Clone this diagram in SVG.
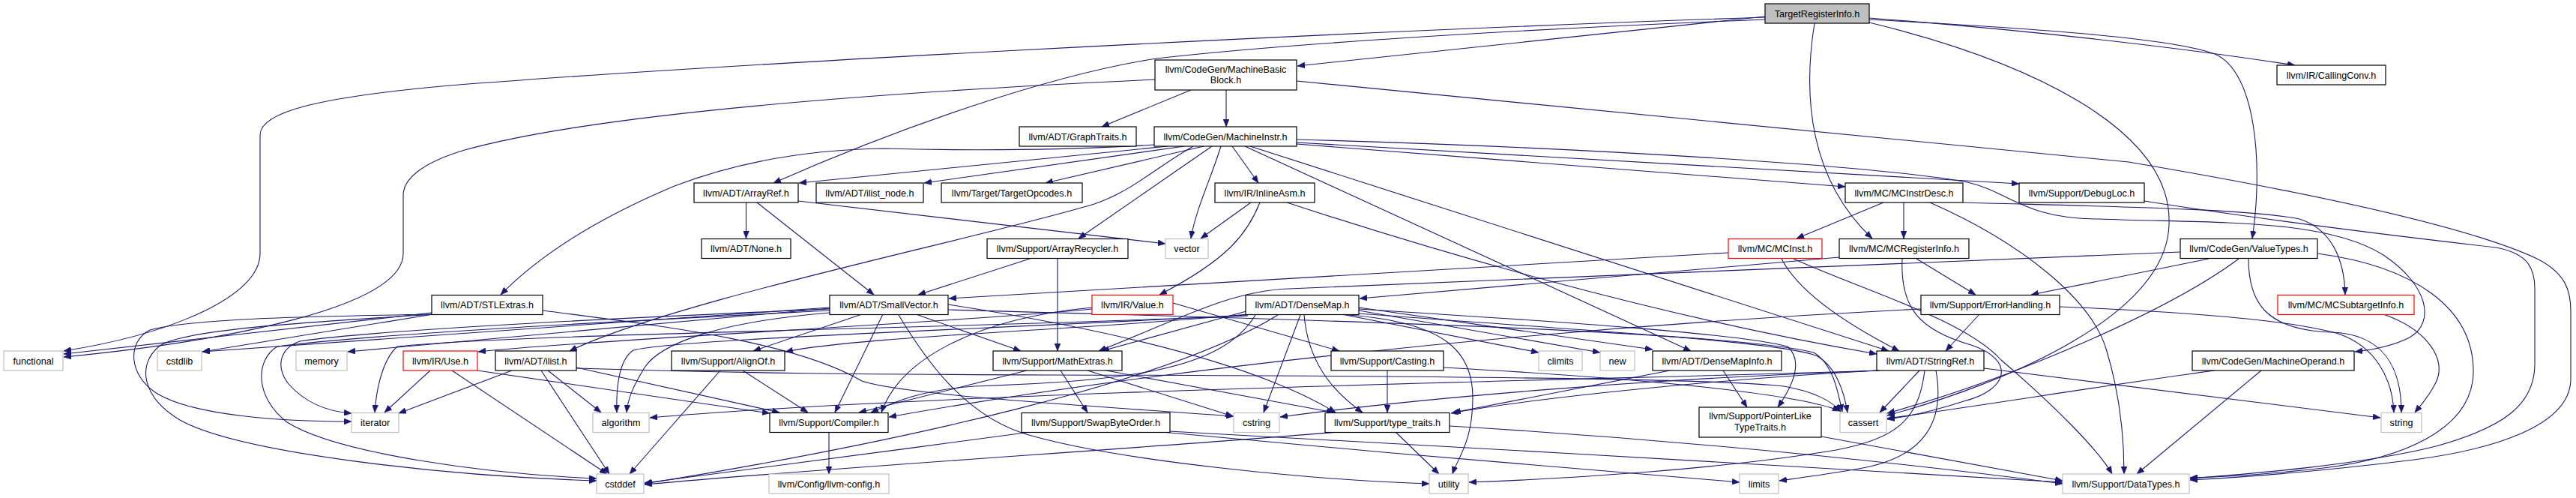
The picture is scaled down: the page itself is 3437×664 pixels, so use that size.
<svg xmlns="http://www.w3.org/2000/svg" width="3437" height="664" viewBox="0 0 3437 664">
<defs>
<marker id="ah" viewBox="0 0 10 8" refX="10" refY="4" markerWidth="10" markerHeight="8" markerUnits="userSpaceOnUse" orient="auto"><path d="M0,0L10,4L0,8z" fill="#191970" stroke="#191970" stroke-width="0.5"/></marker>
</defs>
<style>
.edges path{fill:none;stroke:#191970;stroke-width:1.1;marker-end:url(#ah)}
.n rect{fill:#fff;stroke:#000;stroke-width:1.2}
.x rect{fill:#fff;stroke:#bfbfbf;stroke-width:1.2}
.r rect{fill:#fff;stroke:#ff0000;stroke-width:1.2}
.root rect{fill:#bfbfbf;stroke:#000;stroke-width:1.2}
text{font-family:"Liberation Sans",Arial,Helvetica,sans-serif;font-size:12.6px;text-anchor:middle;fill:#000}
</style>
<rect width="3437" height="664" fill="#fff"/>
<g class="edges">
<path d="M2355,23 C1700,45 900,90 600,114 C420,130 347,150 347,180 L347,338 C347,395 230,445 85,468"/>
<path d="M2355,26 C2000,40 1700,60 1543,78 C1400,100 1200,170 1032,244"/>
<path d="M2355,22 L1731,88"/>
<path d="M2421,31 C2405,130 2415,240 2498,318"/>
<path d="M2494,30 C2700,80 2900,170 2894,300 C2890,420 2680,510 2518,554"/>
<path d="M2494,24 C2700,40 2900,62 3062,87"/>
<path d="M2494,26 C2750,40 2900,52 2955,72 C3010,95 3020,220 3005,318"/>
<path d="M1589,120 L1470,169"/>
<path d="M1636,120 L1636,169"/>
<path d="M1730,108 L2840,216 C3100,260 3300,305 3385,345 C3425,365 3430,390 3430,415 L3430,505 C3430,570 3320,600 3221,613 C3100,628 3000,636 2922,640"/>
<path d="M1541,106 C1200,122 800,150 620,200 C560,218 538,240 538,260 L538,338 C538,410 300,455 85,476"/>
<path d="M1558,195 L1066,244"/>
<path d="M1580,195 L1233,244"/>
<path d="M1606,195 L1395,244"/>
<path d="M1540,193 C1400,202 1250,200 1180,198 C1050,200 960,225 900,248 C800,290 720,340 668,393"/>
<path d="M1617,195 L1439,318"/>
<path d="M1629,195 C1615,240 1595,280 1589,318"/>
<path d="M1644,195 L1679,244"/>
<path d="M1661,195 L2256,468"/>
<path d="M1668,195 L2520,468"/>
<path d="M1730,186 C2100,196 2500,220 2625,243 C2680,255 2700,292 2800,292 C2950,298 3100,290 3180,340 C3240,380 3250,430 3215,450 C3195,460 3170,466 3142,469"/>
<path d="M1730,190 L2694,245"/>
<path d="M1730,192 L2462,249"/>
<path d="M1592,195 C1540,225 1510,255 1460,272 C1300,320 900,400 760,468"/>
<path d="M995.5,270 L995.5,318"/>
<path d="M1010,270 L1166,393"/>
<path d="M1065,268 L1555,325"/>
<path d="M1669,270 L1602,318"/>
<path d="M1681,270 C1665,310 1640,345 1547,393"/>
<path d="M1717,270 C1900,330 2200,420 2504,472"/>
<path d="M2513,270 L2397,318"/>
<path d="M2540,270 L2540,318"/>
<path d="M2619,270 C2800,275 3000,278 3068,292 C3110,305 3128,345 3129,393"/>
<path d="M2575,270 C2700,325 2790,400 2810,465 C2830,530 2834,590 2834,632"/>
<path d="M2861,268 C3000,290 3200,315 3330,330 C3375,338 3382,360 3382,385 L3382,485 C3382,540 3340,570 3250,595 C3150,620 3000,632 2922,638"/>
<path d="M1374,345 L1225,393"/>
<path d="M1411,345 L1411,468"/>
<path d="M2306,337 L1266,398"/>
<path d="M2377,345 C2395,380 2440,420 2534,468"/>
<path d="M2393,345 C2480,385 2620,425 2670,480 C2740,540 2800,600 2818,632"/>
<path d="M2454,343 L1814,398"/>
<path d="M2557,345 L2636,393"/>
<path d="M2538,345 C2535,410 2560,440 2630,460 C2690,480 2680,520 2620,535 C2580,548 2550,555 2518,559"/>
<path d="M2909,336 C2400,355 1900,378 1720,385 C1640,388 1575,425 1466,468"/>
<path d="M2947,345 L2710,393"/>
<path d="M2987,345 C2900,410 2700,500 2518,551"/>
<path d="M3000,345 C3000,400 3020,440 3110,443 C3180,445 3204,490 3204,550"/>
<path d="M3092,338 C3220,355 3300,410 3300,495 C3300,575 3200,612 3100,624 C3030,632 2970,636 2922,637"/>
<path d="M576,417 L85,472"/>
<path d="M578,419 L270,469"/>
<path d="M576,419 C420,422 260,424 200,440 C170,455 170,500 210,525 C260,555 380,562 469,562"/>
<path d="M580,419 C400,430 240,440 212,462 C182,487 190,530 240,560 C320,605 600,635 796,641"/>
<path d="M724,414 C880,434 1060,455 1150,508 C1200,525 1400,538 1646,555"/>
<path d="M1150,419 L1005,468"/>
<path d="M1178,419 L1114,550"/>
<path d="M1222,419 L1362,468"/>
<path d="M1265,406 C1550,450 1700,500 1782,550"/>
<path d="M1107,417 C950,430 880,460 860,490 C845,515 838,530 836,550"/>
<path d="M1265,413 C1700,425 2300,440 2420,470 C2445,485 2452,520 2458,549"/>
<path d="M1107,414 C800,430 500,445 370,462 C340,480 340,530 383,563 C450,605 650,632 796,638"/>
<path d="M1107,412 C800,425 500,440 400,455 C372,465 368,490 385,512 C410,540 440,549 469,551"/>
<path d="M1107,410 L270,469"/>
<path d="M1107,411 L464,469"/>
<path d="M1199,420 C1235,480 1290,560 1380,582 C1500,615 1750,640 1907,645"/>
<path d="M1457,412 C1250,432 800,452 638,469"/>
<path d="M1565,404 L1787,468"/>
<path d="M1457,410 C1300,425 1200,480 1176,550"/>
<path d="M1813,410 L2205,466"/>
<path d="M1790,419 L2053,470"/>
<path d="M1813,414 L2135,470"/>
<path d="M1813,412 C2100,430 2320,445 2385,462 C2405,480 2395,510 2372,543"/>
<path d="M1813,418 C2100,440 2380,455 2425,475 C2450,490 2460,520 2465,550"/>
<path d="M1740,420 C1745,480 1775,520 1818,550"/>
<path d="M1800,420 C1930,430 1965,470 1965,530 C1965,590 1945,610 1938,632"/>
<path d="M1735,420 L1686,550"/>
<path d="M1663,415 L1470,468"/>
<path d="M1675,420 C1630,495 1500,508 1300,515 C1230,520 1195,535 1162,550"/>
<path d="M1665,419 C1450,440 1150,448 1048,469"/>
<path d="M1665,420 C1300,440 900,452 845,467 C825,480 822,520 823,550"/>
<path d="M1665,421 C1200,440 700,445 530,462 C510,480 502,520 500,550"/>
<path d="M1705,420 C1560,510 1200,590 860,645"/>
<path d="M2641,419 L2596,468"/>
<path d="M2563,412 C2000,440 1500,500 1186,556"/>
<path d="M2748,409 C2900,415 3050,425 3120,445 C3170,462 3192,505 3194,550"/>
<path d="M3180,419 C3240,440 3265,480 3250,510 C3240,530 3230,540 3222,550"/>
<path d="M574,494 L513,550"/>
<path d="M603,494 L810,632"/>
<path d="M637,494 L1027,551"/>
<path d="M683,494 L532,551"/>
<path d="M731,494 L802,550"/>
<path d="M722,494 L813,632"/>
<path d="M769,490 L1040,550"/>
<path d="M769,491 C1000,498 1150,499 1400,500 C1900,501 2300,505 2380,515 C2420,522 2445,535 2456,549"/>
<path d="M991,494 L1078,550"/>
<path d="M961,494 L840,632"/>
<path d="M1415,494 L1451,550"/>
<path d="M1370,494 L1146,550"/>
<path d="M1476,494 L1780,550"/>
<path d="M1451,494 L1645,555"/>
<path d="M1851,494 L1851,550"/>
<path d="M1926,490 C2200,505 2400,525 2455,548"/>
<path d="M2299,494 L2331,543"/>
<path d="M2228,494 L1939,550"/>
<path d="M2561,494 L2508,550"/>
<path d="M2568,494 C2560,560 2530,585 2450,600 C2300,625 2100,638 1960,643"/>
<path d="M2583,494 C2595,560 2570,610 2480,625 C2440,632 2410,636 2374,641"/>
<path d="M2647,491 L3176,557"/>
<path d="M2506,494 C2300,505 2050,530 1936,551"/>
<path d="M2507,494 C2200,505 1900,530 1708,556"/>
<path d="M2508,494 C2200,505 1300,520 867,557"/>
<path d="M2955,494 C2800,515 2650,540 2518,558"/>
<path d="M3017,494 L2851,632"/>
<path d="M1106,576 L1106,632"/>
<path d="M1375,576 C1200,600 1000,625 860,644"/>
<path d="M1550,576 C1800,600 2100,625 2321,643"/>
<path d="M1560,575 C1900,595 2500,625 2752,643"/>
<path d="M1862,576 L1920,632"/>
<path d="M1934,568 C2300,590 2600,625 2752,645"/>
<path d="M1785,576 C1500,600 1150,620 860,646"/>
<path d="M2430,582 L2752,641"/>
</g>
<g id="n_TargetRegisterInfo" class="root"><rect x="2355" y="5" width="139" height="26"/><text x="2424.5" y="22.5">TargetRegisterInfo.h</text></g>
<g id="n_MachineBasicBlock" class="n"><rect x="1541" y="80" width="189" height="40"/><text x="1635.5" y="97">llvm/CodeGen/MachineBasic</text><text x="1635.5" y="110.5">Block.h</text></g>
<g id="n_CallingConv" class="n"><rect x="3038" y="87" width="145" height="26"/><text x="3110.5" y="104.5">llvm/IR/CallingConv.h</text></g>
<g id="n_GraphTraits" class="n"><rect x="1360" y="169" width="156" height="26"/><text x="1438" y="186.5">llvm/ADT/GraphTraits.h</text></g>
<g id="n_MachineInstr" class="n"><rect x="1540" y="169" width="190" height="26"/><text x="1635" y="186.5">llvm/CodeGen/MachineInstr.h</text></g>
<g id="n_ArrayRef" class="n"><rect x="926" y="244" width="139" height="26"/><text x="995.5" y="261.5">llvm/ADT/ArrayRef.h</text></g>
<g id="n_ilist_node" class="n"><rect x="1089" y="244" width="143" height="26"/><text x="1160.5" y="261.5">llvm/ADT/ilist_node.h</text></g>
<g id="n_TargetOpcodes" class="n"><rect x="1256" y="244" width="188" height="26"/><text x="1350" y="261.5">llvm/Target/TargetOpcodes.h</text></g>
<g id="n_InlineAsm" class="n"><rect x="1621" y="244" width="133" height="26"/><text x="1687.5" y="261.5">llvm/IR/InlineAsm.h</text></g>
<g id="n_MCInstrDesc" class="n"><rect x="2462" y="244" width="157" height="26"/><text x="2540.5" y="261.5">llvm/MC/MCInstrDesc.h</text></g>
<g id="n_DebugLoc" class="n"><rect x="2694" y="244" width="167" height="26"/><text x="2777.5" y="261.5">llvm/Support/DebugLoc.h</text></g>
<g id="n_None" class="n"><rect x="936" y="318.5" width="119" height="26"/><text x="995.5" y="336">llvm/ADT/None.h</text></g>
<g id="n_ArrayRecycler" class="n"><rect x="1317" y="318.5" width="188" height="26"/><text x="1411" y="336">llvm/Support/ArrayRecycler.h</text></g>
<g id="n_vector" class="x"><rect x="1555" y="318.5" width="57" height="26"/><text x="1583.5" y="336">vector</text></g>
<g id="n_MCInst" class="r"><rect x="2306" y="318.5" width="125" height="26"/><text x="2368.5" y="336">llvm/MC/MCInst.h</text></g>
<g id="n_MCRegisterInfo" class="n"><rect x="2454" y="318.5" width="173" height="26"/><text x="2540.5" y="336">llvm/MC/MCRegisterInfo.h</text></g>
<g id="n_ValueTypes" class="n"><rect x="2909" y="318.5" width="183" height="26"/><text x="3000.5" y="336">llvm/CodeGen/ValueTypes.h</text></g>
<g id="n_STLExtras" class="n"><rect x="576" y="393.5" width="148" height="26"/><text x="650" y="411">llvm/ADT/STLExtras.h</text></g>
<g id="n_SmallVector" class="n"><rect x="1107" y="393.5" width="158" height="26"/><text x="1186" y="411">llvm/ADT/SmallVector.h</text></g>
<g id="n_Value" class="r"><rect x="1457" y="393.5" width="108" height="26"/><text x="1511" y="411">llvm/IR/Value.h</text></g>
<g id="n_DenseMap" class="n"><rect x="1662" y="393.5" width="151" height="26"/><text x="1737.5" y="411">llvm/ADT/DenseMap.h</text></g>
<g id="n_ErrorHandling" class="n"><rect x="2563" y="393.5" width="185" height="26"/><text x="2655.5" y="411">llvm/Support/ErrorHandling.h</text></g>
<g id="n_MCSubtargetInfo" class="r"><rect x="3039" y="393.5" width="182" height="26"/><text x="3130" y="411">llvm/MC/MCSubtargetInfo.h</text></g>
<g id="n_functional" class="x"><rect x="5" y="468" width="79" height="26"/><text x="44.5" y="485.5">functional</text></g>
<g id="n_cstdlib" class="x"><rect x="210" y="468" width="59" height="26"/><text x="239.5" y="485.5">cstdlib</text></g>
<g id="n_memory" class="x"><rect x="395" y="468" width="68" height="26"/><text x="429" y="485.5">memory</text></g>
<g id="n_Use" class="r"><rect x="538" y="468" width="99" height="26"/><text x="587.5" y="485.5">llvm/IR/Use.h</text></g>
<g id="n_ilist" class="n"><rect x="661" y="468" width="108" height="26"/><text x="715" y="485.5">llvm/ADT/ilist.h</text></g>
<g id="n_AlignOf" class="n"><rect x="896" y="468" width="151" height="26"/><text x="971.5" y="485.5">llvm/Support/AlignOf.h</text></g>
<g id="n_MathExtras" class="n"><rect x="1325" y="468" width="172" height="26"/><text x="1411" y="485.5">llvm/Support/MathExtras.h</text></g>
<g id="n_Casting" class="n"><rect x="1776" y="468" width="150" height="26"/><text x="1851" y="485.5">llvm/Support/Casting.h</text></g>
<g id="n_climits" class="x"><rect x="2053" y="468" width="58" height="26"/><text x="2082" y="485.5">climits</text></g>
<g id="n_new" class="x"><rect x="2135" y="468" width="46" height="26"/><text x="2158" y="485.5">new</text></g>
<g id="n_DenseMapInfo" class="n"><rect x="2205" y="468" width="172" height="26"/><text x="2291" y="485.5">llvm/ADT/DenseMapInfo.h</text></g>
<g id="n_StringRef" class="n"><rect x="2504" y="468" width="143" height="26"/><text x="2575.5" y="485.5">llvm/ADT/StringRef.h</text></g>
<g id="n_MachineOperand" class="n"><rect x="2925" y="468" width="216" height="26"/><text x="3033" y="485.5">llvm/CodeGen/MachineOperand.h</text></g>
<g id="n_iterator" class="x"><rect x="469" y="550.5" width="63" height="26"/><text x="500.5" y="568">iterator</text></g>
<g id="n_algorithm" class="x"><rect x="791" y="550.5" width="75" height="26"/><text x="828.5" y="568">algorithm</text></g>
<g id="n_Compiler" class="n"><rect x="1027" y="550.5" width="158" height="26"/><text x="1106" y="568">llvm/Support/Compiler.h</text></g>
<g id="n_SwapByteOrder" class="n"><rect x="1363" y="550.5" width="198" height="26"/><text x="1462" y="568">llvm/Support/SwapByteOrder.h</text></g>
<g id="n_cstring" class="x"><rect x="1646" y="550.5" width="61" height="26"/><text x="1676.5" y="568">cstring</text></g>
<g id="n_type_traits" class="n"><rect x="1768" y="550.5" width="166" height="26"/><text x="1851" y="568">llvm/Support/type_traits.h</text></g>
<g id="n_PointerLikeTypeTraits" class="n"><rect x="2267" y="543" width="163" height="40"/><text x="2348.5" y="559">llvm/Support/PointerLike</text><text x="2348.5" y="574">TypeTraits.h</text></g>
<g id="n_cassert" class="x"><rect x="2455" y="550.5" width="62" height="26"/><text x="2486" y="568">cassert</text></g>
<g id="n_string" class="x"><rect x="3177" y="550.5" width="54" height="26"/><text x="3204" y="568">string</text></g>
<g id="n_cstddef" class="x"><rect x="796" y="632" width="63" height="26"/><text x="827.5" y="649.5">cstddef</text></g>
<g id="n_llvm_config" class="x"><rect x="1026" y="632" width="160" height="26"/><text x="1106" y="649.5">llvm/Config/llvm-config.h</text></g>
<g id="n_utility" class="x"><rect x="1907" y="632" width="52" height="26"/><text x="1933" y="649.5">utility</text></g>
<g id="n_limits" class="x"><rect x="2321" y="632" width="52" height="26"/><text x="2347" y="649.5">limits</text></g>
<g id="n_DataTypes" class="x"><rect x="2752" y="632" width="169" height="26"/><text x="2836.5" y="649.5">llvm/Support/DataTypes.h</text></g>
</svg>
